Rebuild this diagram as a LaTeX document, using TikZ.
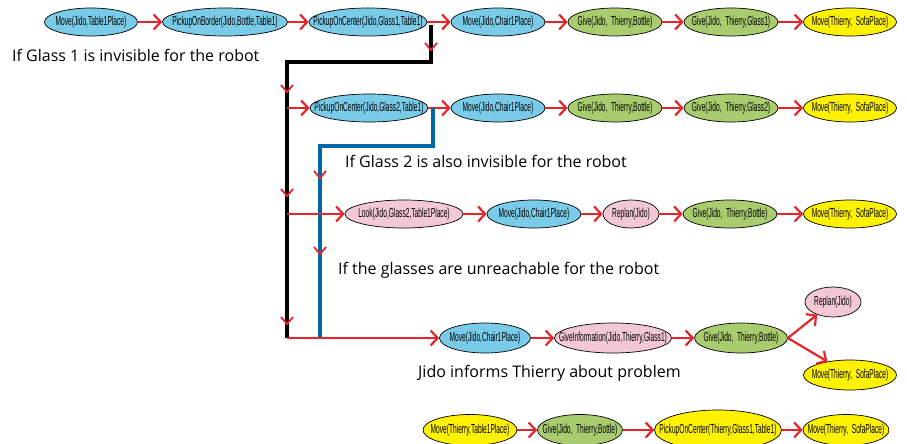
\documentclass[tikz,border=0pt]{standalone}
\usepackage{fontspec}
\setmainfont{Open Sans}
\newfontfamily\condf[FakeStretch=0.51]{Liberation Sans}
\usetikzlibrary{shapes.geometric,arrows.meta}
\definecolor{cblue}{RGB}{121,203,232}
\definecolor{cgreen}{RGB}{168,204,110}
\definecolor{cpink}{RGB}{242,200,215}
\definecolor{cyel}{RGB}{255,242,0}
\definecolor{cred}{RGB}{226,38,44}
\definecolor{cline}{RGB}{0,104,168}
\newcommand\zt[1]{\makebox[0pt]{#1}}
\begin{document}
\begin{tikzpicture}[x=1pt,y=-1pt,
  act/.style={ellipse, draw=black, line width=0.7pt, inner sep=0pt,
    minimum height=28pt, minimum width=94pt,
    font=\condf\fontsize{13}{14}\selectfont},
  bl/.style={act, fill=cblue},
  gr/.style={act, fill=cgreen},
  pk/.style={act, fill=cpink},
  ye/.style={act, fill=cyel},
  arr/.style={draw=cred, line width=2.2pt, -{Straight Barb[length=7pt,width=15pt,line width=2.2pt]}},
  chev/.style={draw=cred, line width=1.8pt},
  blk/.style={draw=black, line width=4pt},
  blu/.style={draw=cline, line width=4pt},
  note/.style={font=\fontsize{16}{18}\selectfont, anchor=base west, inner sep=0pt}]
\useasboundingbox (0,0) rectangle (907,444);

% Row 1
\node[bl, minimum width=93pt] (a1) at (91,22) {\zt{Move(Jido,Table1Place)}};
\node[bl, minimum width=125pt] (a2) at (225,22) {\zt{PickupOnBorder(Jido,Bottle,Table1)}};
\node[bl, minimum width=118pt] (a3) at (368,22) {\zt{PickupOnCenter(Jido,Glass1,Table1)}};
\node[bl] (a4) at (498,22) {\zt{Move(Jido,Chair1Place)}};
\node[gr] (a5) at (615,22) {\zt{Give(Jido,\ \ Thierry,Bottle)}};
\node[gr] (a6) at (731,22) {\zt{Give(Jido,\ \ Thierry,Glass1)}};
\node[ye, minimum width=93pt] (a7) at (850,22) {\zt{Move(Thierry,\ \ SofaPlace)}};
\draw[arr] (a1) -- (a2);
\draw[arr] (a2) -- (a3);
\draw[arr] (a3) -- (a4);
\draw[arr] (a4) -- (a5);
\draw[arr] (a5) -- (a6);
\draw[arr] (a6) -- (a7);

\node[note] (t1) at (12,62) {If Glass 1 is invisible for the robot};

% Black branch
\coordinate (k1) at (431,25);
\coordinate (k2) at (431,62);
\coordinate (k3) at (287,62);
\coordinate (k4) at (287,338);
\draw[blk] (k1) -- (k2) -- (k3) -- (k4);
\draw[chev] (425,43) -- (431,50) -- (437,43);
\draw[chev] (281,85) -- (287,92) -- (293,85);
\draw[chev] (281,189) -- (287,196) -- (293,189);
\draw[chev] (281,317) -- (287,324) -- (293,317);

% Row 2
\node[bl, minimum width=118pt] (b1) at (369,108) {\zt{PickupOnCenter(Jido,Glass2,Table1)}};
\node[bl] (b2) at (498,108) {\zt{Move(Jido,Chair1Place)}};
\node[gr] (b3) at (615,108) {\zt{Give(Jido,\ \ Thierry,Bottle)}};
\node[gr] (b4) at (731,108) {\zt{Give(Jido,\ \ Thierry,Glass2)}};
\node[ye, minimum width=93pt] (b5) at (850,108) {\zt{Move(Thierry,\ \ SofaPlace)}};
\coordinate (s2) at (287,108);
\draw[arr] (s2) -- (b1);
\draw[arr] (b1) -- (b2);
\draw[arr] (b2) -- (b3);
\draw[arr] (b3) -- (b4);
\draw[arr] (b4) -- (b5);

% Blue branch
\coordinate (u1) at (433,108);
\coordinate (u2) at (433,146);
\coordinate (u3) at (320,146);
\coordinate (u4) at (320,338);
\draw[blu] (u1) -- (u2) -- (u3) -- (u4);
\draw[chev] (314,171) -- (320,178) -- (326,171);
\draw[chev] (314,247) -- (320,254) -- (326,247);

\node[note] (t2) at (345,167) {If Glass 2 is also invisible for the robot};

% Row 3
\node[pk, minimum width=118pt] (c1) at (404,214) {\zt{Look(Jido,Glass2,Table1Place)}};
\node[bl] (c2) at (534,214) {\zt{Move(Jido,Chair1Place)}};
\node[pk, minimum width=56pt] (c3) at (631,214) {\zt{Replan(Jido)}};
\node[gr] (c4) at (730,214) {\zt{Give(Jido,\ \ Thierry,Bottle)}};
\node[ye, minimum width=93pt] (c5) at (850,214) {\zt{Move(Thierry,\ \ SofaPlace)}};
\coordinate (s3) at (287,214);
\draw[arr] (s3) -- (c1);
\draw[arr] (c1) -- (c2);
\draw[arr] (c2) -- (c3);
\draw[arr] (c3) -- (c4);
\draw[arr] (c4) -- (c5);

\node[note] (t3) at (338,274) {If the glasses are unreachable for the robot};

% Row 4
\node[bl, minimum width=91pt, minimum height=30pt] (d1) at (485,338) {\zt{Move(Jido,Chair1Place)}};
\node[pk, minimum width=117pt, minimum height=30pt] (d2) at (613,338) {\zt{GiveInformation(Jido,Thierry,Glass1)}};
\node[gr, minimum width=93pt, minimum height=30pt] (d3) at (741,338) {\zt{Give(Jido,\ \ Thierry,Bottle)}};
\node[pk, minimum width=56pt, minimum height=30pt] (d4) at (833,302) {\zt{Replan(Jido)}};
\node[ye, minimum width=93pt, minimum height=30pt] (d5) at (850,375) {\zt{Move(Thierry,\ \ SofaPlace)}};
\coordinate (s4) at (287,338);
\draw[draw=cred, line width=2.2pt] (s4) -- (320,338);
\draw[arr] (320,338) -- (d1);
\draw[arr] (d1) -- (d2);
\draw[arr] (d2) -- (d3);
\draw[arr] (d3.east) -- (d4);
\draw[arr] (d3.east) -- (d5);

\node[note] (t4) at (418,377) {Jido informs Thierry about problem};

% Row 5
\node[ye, minimum width=94pt, minimum height=31pt] (e1) at (470,430) {\zt{Move(Thierry,Table1Place)}};
\node[gr, minimum width=85pt, minimum height=31pt] (e2) at (580,430) {\zt{Give(Jido,\ \ Thierry,Bottle)}};
\node[ye, minimum width=127pt, minimum height=40pt] (e3) at (718,430) {\zt{PickupOnCenter(Thierry,Glass1,Table1)}};
\node[ye, minimum width=86pt, minimum height=31pt] (e4) at (846,430) {\zt{Move(Thierry,\ \ SofaPlace)}};
\draw[arr] (e1) -- (e2);
\draw[arr] (e2) -- (e3);
\draw[arr] (e3) -- (e4);
\end{tikzpicture}
\end{document}
